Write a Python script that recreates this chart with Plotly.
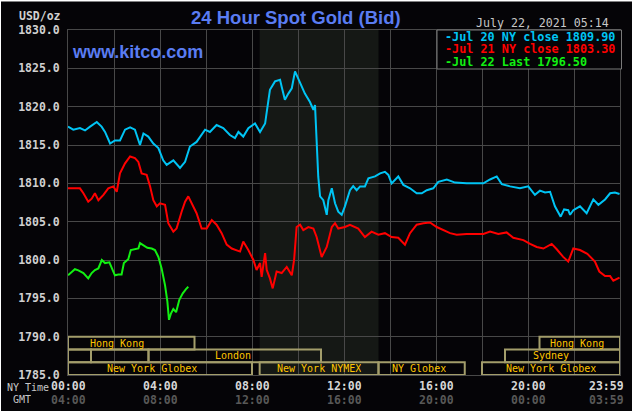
import plotly.graph_objects as go

# ---------------- data (NY time in decimal hours, price USD/oz) ----------------
jul20_hours = [0.0,0.23,0.52,0.74,0.96,1.25,1.46,1.61,1.83,2.04,2.26,2.48,2.70,2.91,3.13,3.28,3.49,3.71,3.93,4.14,
               4.29,4.58,4.87,5.09,5.30,5.59,5.96,6.17,6.46,6.75,7.04,7.26,7.41,7.62,7.84,8.13,8.35,8.57,
               8.64,8.78,9.00,9.22,9.29,9.43,9.58,9.73,9.87,10.01,10.16,10.30,10.52,10.67,10.74,
               10.81,10.88,10.96,11.10,11.25,11.32,11.47,11.61,11.75,11.90,
               12.04,12.26,12.40,12.55,12.70,12.91,13.06,13.35,13.57,13.78,13.93,
               14.07,14.36,14.58,14.87,15.16,15.38,15.60,15.88,16.10,16.47,
               16.83,17.33,18.06,18.35,18.64,18.86,19.22,19.65,20.01,
               20.30,20.52,20.74,20.96,21.17,21.42,21.57,21.75,21.83,21.97,
               22.26,22.55,22.84,23.06,23.35,23.57,23.78,23.98]
jul20_price = [1817.4,1817.0,1817.2,1816.9,1817.4,1818.0,1817.4,1816.7,1815.2,1815.6,1815.6,1817.0,1817.3,1817.0,1815.0,1816.5,1816.1,1815.2,1814.6,1813.0,
               1812.4,1813.0,1812.0,1812.8,1814.8,1815.4,1817.0,1816.7,1817.6,1817.2,1816.3,1815.9,1816.7,1816.1,1817.2,1817.8,1816.7,1817.8,
               1819.3,1822.2,1823.3,1823.5,1822.6,1820.9,1821.7,1822.4,1824.6,1823.7,1822.6,1821.7,1820.6,1819.6,1820.2,
               1815.2,1810.9,1808.3,1807.8,1805.9,1807.8,1809.35,1807.4,1806.3,1805.9,
               1807.0,1809.1,1809.65,1809.1,1809.6,1809.6,1810.65,1810.9,1811.3,1811.5,1811.1,
               1810.0,1810.9,1809.8,1809.35,1808.7,1808.7,1809.1,1809.35,1810.2,1810.5,
               1810.1,1810.0,1810.0,1810.5,1810.9,1809.9,1809.6,1809.35,1809.6,
               1808.5,1809.05,1808.8,1808.9,1807.0,1805.65,1806.6,1806.5,1805.9,1806.5,
               1807.0,1806.1,1807.9,1807.2,1807.9,1808.7,1808.8,1808.6]

jul21_hours = [0.0,0.23,0.52,0.67,0.88,1.03,1.17,1.32,1.54,1.75,1.97,
               2.12,2.26,2.48,2.70,2.91,3.06,3.20,3.42,3.57,3.71,3.86,
               4.00,4.22,4.36,4.58,4.72,4.94,5.09,5.23,5.38,5.59,5.81,
               6.03,6.25,6.46,6.68,6.90,7.12,7.33,7.48,7.62,7.84,
               8.06,8.20,8.35,8.42,8.57,8.64,8.78,8.90,9.07,9.29,9.51,9.73,9.83,9.94,
               10.09,10.23,10.45,10.67,10.81,11.03,11.25,11.47,11.61,11.75,
               12.04,12.26,12.62,12.91,13.20,13.49,13.78,
               14.07,14.36,14.51,14.65,14.87,15.16,15.45,15.74,16.03,16.32,16.61,16.90,
               17.33,18.06,18.35,18.71,19.07,19.36,19.80,20.09,20.38,20.67,
               21.03,21.25,21.53,21.75,21.97,22.26,22.58,22.91,23.10,23.35,23.57,23.71,23.98]
jul21_price = [1809.35,1809.35,1809.35,1808.7,1807.6,1808.0,1808.7,1807.8,1808.5,1809.35,1809.6,
               1808.9,1811.3,1812.6,1813.5,1813.3,1812.8,1811.3,1811.1,1809.6,1807.8,1807.0,
               1807.4,1807.2,1804.8,1803.7,1804.1,1806.3,1807.6,1808.3,1807.4,1806.1,1804.1,
               1804.1,1805.2,1804.6,1803.5,1802.0,1801.5,1801.3,1801.1,1802.4,1801.3,
               1800.0,1798.7,1799.6,1797.8,1800.9,1798.7,1797.6,1796.3,1798.5,1798.3,1799.1,1798.0,1800.0,1804.3,
               1804.6,1803.9,1804.3,1804.1,1803.0,1800.4,1801.7,1804.3,1804.8,1804.1,
               1804.3,1804.6,1804.1,1803.0,1803.7,1803.3,1803.5,
               1803.0,1802.9,1802.4,1802.0,1803.5,1804.6,1804.8,1804.9,1804.3,1803.9,1803.5,1803.3,
               1803.4,1803.4,1803.7,1803.4,1803.6,1802.9,1802.6,1802.1,1801.7,1801.5,
               1802.1,1801.4,1800.4,1799.8,1801.5,1801.3,1800.8,1799.8,1798.5,1797.9,1797.9,1797.3,1797.7]

jul22_hours = [0.0,0.16,0.30,0.45,0.67,0.88,1.03,1.17,1.32,
               1.47,1.61,1.80,1.90,2.04,2.19,2.33,2.43,
               2.62,2.73,2.91,3.06,3.13,3.27,3.45,3.64,3.78,
               3.93,4.07,4.22,4.32,4.39,4.48,4.58,4.70,4.84,4.99,5.13,5.23]
jul22_price = [1798.0,1798.5,1798.8,1798.65,1798.3,1797.6,1798.3,1798.7,1798.9,
               1800.0,1799.6,1799.7,1798.9,1798.0,1798.1,1798.1,1799.6,
               1800.1,1801.3,1801.4,1801.5,1802.2,1801.9,1801.6,1801.5,1801.3,
               1800.4,1798.9,1796.7,1794.6,1792.2,1793.05,1793.6,1793.2,1794.8,1795.65,1796.2,1796.5]

legend_labels = ["-Jul 20 NY close 1809.90", "-Jul 21 NY close 1803.30", "-Jul 22 Last 1796.50"]
series_colors = ["#00c4f4", "#ff0000", "#12f012"]

ny_tick_hours = [0, 4, 8, 12, 16, 20, 23.983]
ny_tick_labels = ["00:00", "04:00", "08:00", "12:00", "16:00", "20:00", "23:59"]
gmt_tick_labels = ["04:00", "08:00", "12:00", "16:00", "20:00", "00:00", "03:59"]

# trading sessions: row (0 = top), start hour, end hour, label, label centre hour
session_row = [0, 0, 1, 1, 1, 1, 2, 2, 2, 2]
session_start = [0, 20.5, 0, 1.0, 3.5, 19.0, 0, 8.333, 13.5, 18.0]
session_end = [5.5, 24, 1.0, 3.5, 11.0, 24, 8.0, 13.5, 17.25, 24]
session_label = ["Hong Kong", "Hong Kong", "", "", "London", "Sydney",
                 "New York Globex", "New York NYMEX", "NY Globex", "New York Globex"]
session_label_x = [2.14, 22.11, None, None, 7.19, 21.0, 3.67, 10.92, 15.25, 21.01]

nymex_pit = [8.333, 13.5]

# ---------------- figure ----------------
W, H = 635, 415
L, R, T, B = 68, 15, 30, 40
PW, PH = W - L - R, H - T - B


def pxx(x):
    return (x - L) / PW


def pxy(y):
    return (H - B - y) / PH


MONO = "DejaVu Sans Mono"
SANS = "Liberation Sans, Arial"

fig = go.Figure()
for hrs, prc, col, lab in zip([jul20_hours, jul21_hours, jul22_hours],
                              [jul20_price, jul21_price, jul22_price],
                              series_colors, legend_labels):
    fig.add_trace(go.Scatter(x=hrs, y=prc, mode="lines", name=lab,
                             line=dict(color=col, width=2), showlegend=False,
                             hoverinfo="skip"))

shapes = []
# black chart body over a white paper (thin light frame at the edges)
shapes.append(dict(type="rect", xref="paper", yref="paper", layer="below",
                   x0=pxx(1), x1=pxx(632), y0=pxy(411), y1=pxy(1.5),
                   fillcolor="#050407", line=dict(width=0)))
# NYMEX pit shading
shapes.append(dict(type="rect", xref="x", yref="y", layer="below",
                   x0=nymex_pit[0], x1=nymex_pit[1], y0=1785, y1=1830,
                   fillcolor="#151815", line=dict(width=0)))

annotations = []
row_h = 5 / 3
for r, s, e, lab, lx in zip(session_row, session_start, session_end, session_label, session_label_x):
    y1 = 1790 - r * row_h
    y0 = y1 - row_h
    shapes.append(dict(type="rect", xref="x", yref="y", layer="above",
                       x0=s, x1=e, y0=y0, y1=y1,
                       fillcolor="rgba(0,0,0,0)", line=dict(color="#a39d6b", width=2)))
    if lab:
        annotations.append(dict(x=lx, y=(y0 + y1) / 2, xref="x", yref="y", text=lab,
                                showarrow=False, xanchor="center", yanchor="middle", height=11,
                                font=dict(family=MONO, size=10, color="#ffc400")))

# legend box
shapes.append(dict(type="rect", xref="paper", yref="paper", layer="above",
                   x0=pxx(437), x1=pxx(621.5), y0=pxy(69), y1=pxy(30),
                   fillcolor="#050407", line=dict(color="#7a7a7a", width=1)))
for i, (lab, col) in enumerate(zip(legend_labels, series_colors)):
    annotations.append(dict(x=pxx(443), y=pxy(36.5 + i * 12.6), xref="paper", yref="paper",
                            text=lab, showarrow=False, xanchor="left", yanchor="middle", height=12,
                            font=dict(family=MONO, size=11.8, color=col, weight="bold")))

# x-axis time labels (two rows)
for h, ny, gmt in zip(ny_tick_hours, ny_tick_labels, gmt_tick_labels):
    last = h > 23.5
    common = dict(x=24 if last else h, xref="x", yref="paper", showarrow=False,
                  xanchor="right" if last else "center", yanchor="middle",
                  xshift=6 if last else 0, height=12)
    annotations.append(dict(common, y=pxy(386), text=ny,
                            font=dict(family=MONO, size=11.5, color="#d6d6d6", weight="bold")))
    annotations.append(dict(common, y=pxy(400), text=gmt,
                            font=dict(family=MONO, size=11.5, color="#585858", weight="bold")))

annotations += [
    dict(x=pxx(4.5), y=pxy(387), text="NY Time", xanchor="left"),
    dict(x=pxx(21.5), y=pxy(399.5), text="GMT", xanchor="center"),
]
for a in annotations[-2:]:
    a.update(xref="paper", yref="paper", showarrow=False, yanchor="middle", height=11,
             font=dict(family=MONO, size=10, color="#c8c8c8"))

annotations += [
    dict(x=pxx(63), y=pxy(16), xref="paper", yref="paper", text="USD/oz", showarrow=False,
         xanchor="right", yanchor="middle",
         font=dict(family=MONO, size=11.5, color="#d0d0d0", weight="bold")),
    dict(x=pxx(296), y=pxy(18), xref="paper", yref="paper", text="24 Hour Spot Gold (Bid)",
         showarrow=False, xanchor="center", yanchor="middle",
         font=dict(family=SANS, size=18.5, color="#5a7cf2", weight="bold")),
    dict(x=pxx(70), y=pxy(52), xref="paper", yref="paper", text="www.kitco.com",
         showarrow=False, xanchor="left", yanchor="middle",
         font=dict(family=SANS, size=18, color="#5a7cf2", weight="bold")),
    dict(x=pxx(611), y=pxy(23), xref="paper", yref="paper", text="July 22, 2021 05:14",
         showarrow=False, xanchor="right", yanchor="middle",
         font=dict(family=MONO, size=11.6, color="#c8c8c8")),
]

fig.update_layout(
    width=W, height=H,
    margin=dict(l=L, r=R, t=T, b=B, pad=0),
    paper_bgcolor="#ffffff",
    plot_bgcolor="#050407",
    shapes=shapes,
    annotations=annotations,
    showlegend=False,
    xaxis=dict(range=[0, 24], dtick=2, tick0=0, showgrid=True, gridcolor="#484848", gridwidth=1,
               showticklabels=False, zeroline=False, showline=True, mirror=True,
               linecolor="#484848", linewidth=1, fixedrange=True),
    yaxis=dict(range=[1785, 1830], dtick=5, tick0=1785, tickformat=".1f", showgrid=True,
               gridcolor="#484848", gridwidth=1, zeroline=False, showline=True, mirror=True,
               linecolor="#484848", linewidth=1, ticks="", ticklabelstandoff=5,
               tickfont=dict(family=MONO, size=11.5, color="#d0d0d0", weight="bold"),
               fixedrange=True),
)

fig.write_html("out.html", config={"displayModeBar": False})
